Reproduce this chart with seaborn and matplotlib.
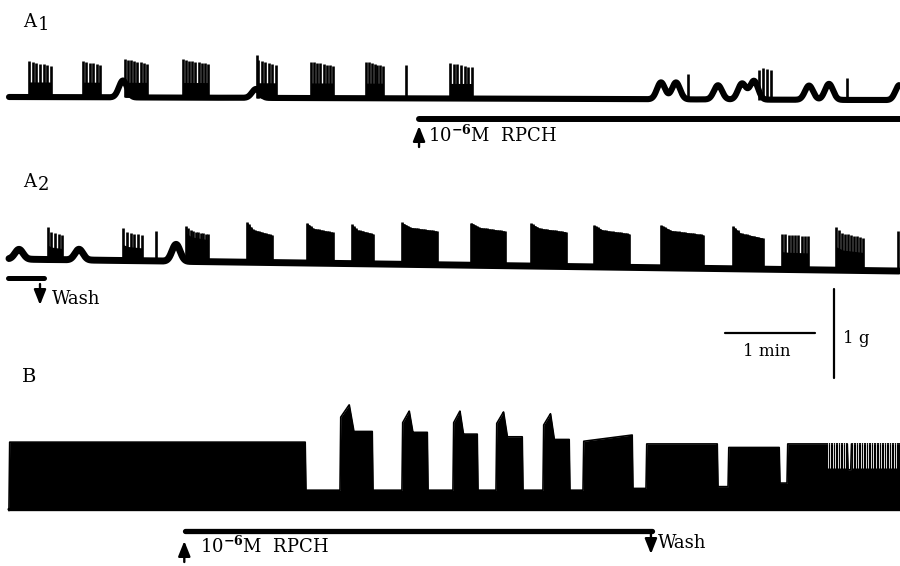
import numpy as np
import matplotlib
matplotlib.use("Agg")
import matplotlib.pyplot as plt
import seaborn as sns
from matplotlib.patches import FancyArrowPatch

# ---------------- data (time in s, force in g) ----------------
# A1 : control bursting, then 10^-6 M RPCH
a1_burst_start = [12.7, 48.7, 76.5, 115.3, 165.5, 200.7, 237.3, 293.3]
a1_burst_end = [27.3, 60.0, 91.3, 132.0, 177.3, 215.3, 248.7, 308.0]
a1_burst_amp = [0.40, 0.41, 0.43, 0.43, 0.42, 0.41, 0.41, 0.40]
a1_burst_nspk = [7, 6, 8, 9, 6, 8, 7, 7]
a1_hump_time = [75.3, 164.0, 434.0, 444.0, 472.0, 488.0, 496.0, 532.7, 546.0, 593.0]
a1_hump_amp = [0.19, 0.10, 0.19, 0.19, 0.16, 0.18, 0.21, 0.16, 0.18, 0.17]
a1_spike_time = [164.7, 264.0, 452.0, 499.3, 502.0, 504.7, 507.3, 558.0]
a1_spike_amp = [0.48, 0.375, 0.29, 0.33, 0.35, 0.35, 0.33, 0.25]
a1_drift = [0.0, -0.035]
a1_rpch = [272.7, 593.3]

# A2 : after washing out RPCH
a2_burst_start = [25.3, 75.3, 117.3, 158.0, 198.0, 228.0, 261.3, 307.3, 347.3, 389.3, 434.0, 482.0, 514.7, 550.7]
a2_burst_end = [34.7, 88.0, 132.0, 174.7, 215.3, 242.0, 284.7, 330.0, 370.7, 412.7, 462.0, 502.0, 532.0, 568.7]
a2_amp_start = [0.36, 0.36, 0.40, 0.45, 0.45, 0.44, 0.47, 0.48, 0.48, 0.47, 0.48, 0.48, 0.40, 0.48]
a2_amp_end = [0.28, 0.29, 0.31, 0.31, 0.35, 0.34, 0.38, 0.39, 0.39, 0.38, 0.38, 0.35, 0.38, 0.37]
a2_nspk = [5, 6, 10, 14, 14, 12, 18, 18, 18, 18, 20, 14, 9, 10]
a2_solid = [0.45, 0.5, 0.8, 1, 1, 1, 1, 1, 1, 1, 1, 1, 0.5, 0.55]
a2_hump_time = [6.0, 46.0, 110.7]
a2_hump_amp = [0.11, 0.12, 0.19]
a2_spike_time = [97.3, 592.0]
a2_spike_amp = [0.34, 0.45]
a2_drift = [0.0, -0.135]
a2_wash = [-1.3, 22.7]

# B : second preparation, tonic activity -> bursting in RPCH
b_seg_start = [-0.7, 220.0, 261.3, 295.3, 324.0, 355.3, 382.0, 424.0, 478.7, 518.0, 560.5]
b_seg_end = [197.3, 242.0, 278.7, 312.0, 342.0, 373.3, 415.3, 472.0, 513.3, 558.7, 593.3]
b_top_start = [0.74, 0.86, 0.85, 0.83, 0.80, 0.77, 0.75, 0.72, 0.68, 0.72, 0.72]
b_top_end = [0.74, 0.86, 0.85, 0.83, 0.80, 0.77, 0.82, 0.72, 0.68, 0.72, 0.72]
b_peak = [0.0, 1.16, 1.09, 1.09, 1.08, 1.06, 0.0, 0.0, 0.0, 0.0, 0.0]
b_gap_level = [0.2, 0.2, 0.2, 0.2, 0.2, 0.2, 0.22, 0.24, 0.28, 0.43]
b_resolved_spikes_from = 545.0   # individual spikes become visible (s)
b_resolved_spike_floor = 0.45    # g
b_rpch = [116.7, 428.0]

scale_time_s = 60
scale_force_g = 1.0

# ---------------- layout ----------------
PXS = 1.5      # pixels per second
X0 = 10.0      # pixel where t = 0
PXG = 89.0     # pixels per gram


def tx(px):
    return (px - X0) / PXS


def gy(py):
    return -py / PXG


sns.set_theme(style="white")
plt.rcParams["font.family"] = ["DejaVu Serif"]
plt.rcParams["mathtext.fontset"] = "dejavuserif"
plt.rcParams["text.color"] = "black"

fig = plt.figure(figsize=(9, 5.66), dpi=100)
ax = fig.add_axes([0, 0, 1, 1])
ax.set_xlim(tx(0), tx(900))
ax.set_ylim(gy(566), gy(0))
ax.axis("off")

K = "black"
t = np.arange(tx(9), tx(899), 0.1)


def humps(tt, times, amps, w):
    out = np.zeros_like(tt)
    for tc, a in zip(times, amps):
        out += a * np.exp(-((tt - tc) / w) ** 2)
    return out


# ---- A1 ----
A1_Y = gy(97)
base1 = A1_Y + np.interp(t, [t[0], t[-1]], a1_drift)
y1 = base1 + humps(t, a1_hump_time, a1_hump_amp, 3.8)
sns.lineplot(x=t, y=y1, ax=ax, color=K, lw=4.4, estimator=None, sort=False)
for s, e, a, n in zip(a1_burst_start, a1_burst_end, a1_burst_amp, a1_burst_nspk):
    tb = np.linspace(s, e, 40)
    bb = np.interp(tb, t, base1)
    ax.fill_between(tb, bb, bb + 0.17, color=K, lw=0)
    ts = np.linspace(s, e, n)
    bs = np.interp(ts, t, base1)
    ax.vlines(ts, bs, bs + a * np.linspace(1.0, 0.88, n), color=K, lw=1.9)
bs = np.interp(a1_spike_time, t, base1)
ax.vlines(a1_spike_time, bs, bs + np.array(a1_spike_amp), color=K, lw=1.9)

# ---- A2 ----
A2_Y = gy(259)
base2 = A2_Y + np.interp(t, [t[0], t[-1]], a2_drift)
y2 = base2 + humps(t, a2_hump_time, a2_hump_amp, 3.8)
sns.lineplot(x=t, y=y2, ax=ax, color=K, lw=5.0, estimator=None, sort=False)
for s, e, a0, a1, n, sf in zip(a2_burst_start, a2_burst_end, a2_amp_start,
                               a2_amp_end, a2_nspk, a2_solid):
    d = e - s
    kx = [s, s + 0.25 * d, e]
    ky = [a0, a0 - 0.6 * (a0 - a1), a1]
    tb = np.linspace(s, e, 60)
    bb = np.interp(tb, t, base2)
    env = np.interp(tb, kx, ky)
    ax.fill_between(tb, bb, bb + sf * env, color=K, lw=0)
    ts = np.linspace(s, e, n)
    bs = np.interp(ts, t, base2)
    ax.vlines(ts, bs, bs + np.interp(ts, kx, ky), color=K, lw=1.9)
bs = np.interp(a2_spike_time, t, base2)
ax.vlines(a2_spike_time, bs, bs + np.array(a2_spike_amp), color=K, lw=1.9)

# ---- B ----
B_Y = gy(508)
kt, kv = [], []
nseg = len(b_seg_start)
for i in range(nseg):
    s, e = b_seg_start[i], b_seg_end[i]
    d = e - s
    g_prev = b_gap_level[i - 1] if i > 0 else -0.03
    g_next = b_gap_level[i] if i < nseg - 1 else b_top_end[i]
    kt += [s, s + 0.5]
    kv += [g_prev, 0.88 * b_peak[i] if b_peak[i] > 0 else b_top_start[i]]
    if b_peak[i] > 0:
        kt += [s + 0.28 * d, s + 0.42 * d]
        kv += [b_peak[i], b_top_start[i]]
    kt += [e - 0.5, e]
    kv += [b_top_end[i], g_next]
tb = np.arange(b_seg_start[0], b_seg_end[-1], 0.1)
envb = np.interp(tb, kt, kv)
ax.fill_between(tb, B_Y - 0.03, B_Y + envb, color=K, lw=0)
sns.lineplot(x=tb, y=B_Y + envb, ax=ax, color=K, lw=1.2, estimator=None, sort=False)
sns.lineplot(x=tb, y=np.full_like(tb, B_Y - 0.015), ax=ax, color=K, lw=2.2,
             estimator=None, sort=False)
# resolved individual spikes at the end of the record: thin gaps between spikes
tg = np.arange(b_resolved_spikes_from, b_seg_end[-1] - 1.0, 1.7)
tg = tg[np.abs(tg - b_seg_end[-2]) > 1.5]
ax.vlines(tg, B_Y + b_resolved_spike_floor, B_Y + np.interp(tg, kt, kv) + 0.02,
          color="white", lw=0.6)

# ---- drug / wash bars ----
sns.lineplot(x=a1_rpch, y=[gy(118.5)] * 2, ax=ax, color=K, lw=4.3, estimator=None)
sns.lineplot(x=a2_wash, y=[gy(278)] * 2, ax=ax, color=K, lw=3.6, estimator=None)
sns.lineplot(x=b_rpch, y=[gy(530.5)] * 2, ax=ax, color=K, lw=3.8, estimator=None)


def arrow(x, y_tail, y_head):
    ax.add_patch(FancyArrowPatch((x, y_tail), (x, y_head),
                                 arrowstyle="-|>,head_length=0.7,head_width=0.28",
                                 mutation_scale=13, color=K, lw=1.7,
                                 shrinkA=0, shrinkB=0))


arrow(a1_rpch[0], gy(147), gy(126))
arrow(tx(40), gy(284), gy(305))
arrow(b_rpch[0] - 0.5, gy(562), gy(541))
arrow(b_rpch[1] - 0.7, gy(533), gy(554))

# ---- scale bars ----
sb_t0 = tx(725)
sns.lineplot(x=[sb_t0, sb_t0 + scale_time_s], y=[gy(333)] * 2, ax=ax, color=K,
             lw=1.6, estimator=None)
sb_x = tx(834)
sns.lineplot(x=[sb_x, sb_x], y=[gy(378), gy(378) + scale_force_g], ax=ax,
             color=K, lw=1.6, estimator=None)

# ---- text ----
FS = 13
ax.text(tx(23), gy(27), "A", fontsize=FS, va="baseline", ha="left", color=K)
ax.text(tx(38), gy(30), "1", fontsize=FS, va="baseline", ha="left", color=K)
ax.text(tx(23), gy(187), "A", fontsize=FS, va="baseline", ha="left", color=K)
ax.text(tx(38), gy(190), "2", fontsize=FS, va="baseline", ha="left", color=K)
ax.text(tx(22), gy(382), "B", fontsize=FS + 1, va="baseline", ha="left", color=K)
ax.text(tx(428), gy(142), r"10$^{\mathbf{-6}}$M  RPCH", fontsize=FS, va="baseline",
        ha="left", color=K)
ax.text(tx(200), gy(553), r"10$^{\mathbf{-6}}$M  RPCH", fontsize=FS, va="baseline",
        ha="left", color=K)
ax.text(tx(52), gy(304), "Wash", fontsize=FS, va="baseline", ha="left", color=K)
ax.text(tx(658), gy(548), "Wash", fontsize=FS, va="baseline", ha="left", color=K)
ax.text(tx(767), gy(356), "1 min", fontsize=FS - 1, va="baseline", ha="center", color=K)
ax.text(tx(843), gy(343), "1 g", fontsize=FS - 1, va="baseline", ha="left", color=K)

fig.savefig("out.png", dpi=100, facecolor="white")
